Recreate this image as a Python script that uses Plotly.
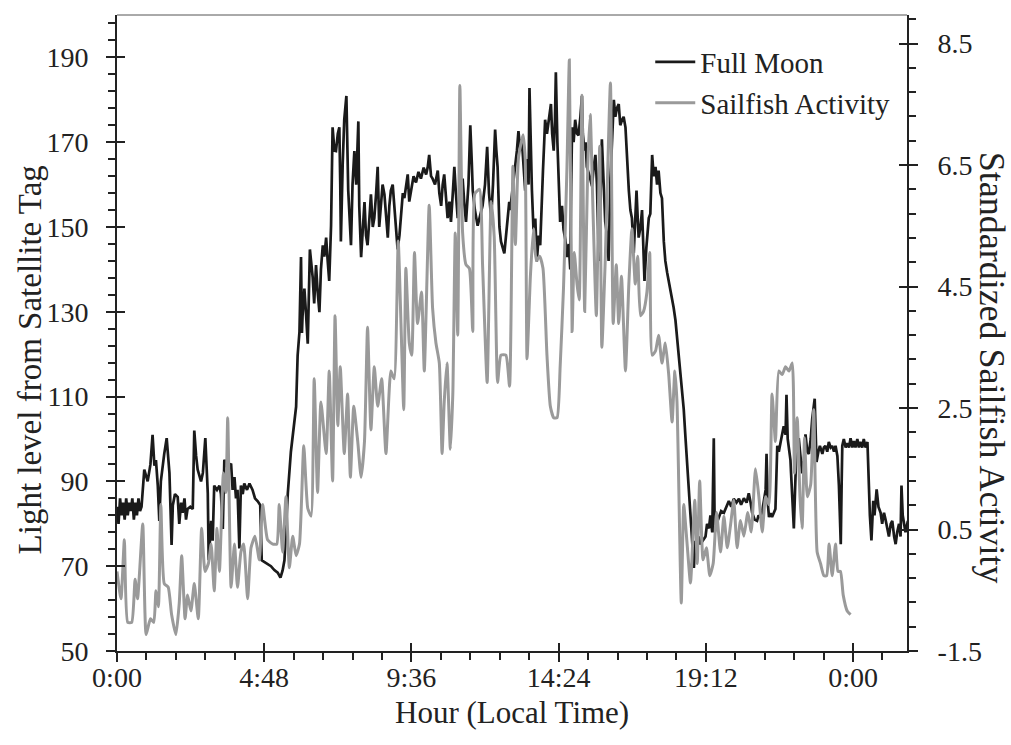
import plotly.graph_objects as go

# ---------------- data ----------------
moon_hours = [
    0.00, 0.05, 0.10, 0.15, 0.20, 0.25, 0.30, 0.35, 0.40, 0.45, 0.50, 0.55, 0.60, 0.65, 0.70, 0.75, 0.80, 0.85,
    0.89, 1.00, 1.09, 1.16, 1.22, 1.27, 1.33, 1.38, 1.43, 1.54, 1.62, 1.71, 1.78, 1.82, 1.89, 1.98, 2.03, 2.09,
    2.14, 2.20, 2.25, 2.30, 2.39, 2.47, 2.52, 2.58, 2.63, 2.74, 2.80, 2.88, 2.92, 2.96, 2.99, 3.07, 3.12, 3.17,
    3.26, 3.34, 3.39, 3.45, 3.50, 3.61, 3.72, 3.77, 3.83, 3.88, 3.93, 3.99, 4.04, 4.10, 4.15, 4.24, 4.32, 4.42,
    4.50, 4.59, 4.67, 4.72, 4.80, 4.91, 5.02, 5.13, 5.24, 5.33, 5.40, 5.46, 5.57, 5.67, 5.73, 5.84, 5.89, 5.95,
    6.00, 6.03, 6.05, 6.11, 6.16, 6.22, 6.29, 6.38, 6.43, 6.49, 6.54, 6.60, 6.65, 6.71, 6.76, 6.82, 6.87, 6.92,
    6.98, 7.03, 7.09, 7.14, 7.20, 7.25, 7.28, 7.30, 7.36, 7.41, 7.48, 7.52, 7.54, 7.63, 7.68, 7.74, 7.80, 7.87,
    7.90, 7.96, 8.01, 8.07, 8.12, 8.17, 8.23, 8.28, 8.34, 8.39, 8.45, 8.50, 8.55, 8.61, 8.66, 8.72, 8.77, 8.83,
    8.88, 8.93, 8.99, 9.04, 9.10, 9.15, 9.21, 9.26, 9.32, 9.37, 9.42, 9.48, 9.53, 9.59, 9.67, 9.75, 9.83, 9.91,
    10.00, 10.08, 10.13, 10.18, 10.24, 10.29, 10.37, 10.46, 10.51, 10.57, 10.62, 10.67, 10.73, 10.78, 10.84,
    10.89, 10.95, 11.00, 11.05, 11.11, 11.20, 11.27, 11.33, 11.38, 11.46, 11.52, 11.57, 11.60, 11.67, 11.76,
    11.85, 11.92, 12.00, 12.07, 12.13, 12.20, 12.26, 12.33, 12.37, 12.41, 12.47, 12.52, 12.63, 12.72, 12.79,
    12.82, 12.99, 13.04, 13.09, 13.15, 13.20, 13.26, 13.31, 13.37, 13.42, 13.45, 13.50, 13.53, 13.58, 13.64,
    13.69, 13.75, 13.80, 13.86, 13.89, 13.93, 13.96, 14.02, 14.07, 14.11, 14.15, 14.19, 14.24, 14.28, 14.31,
    14.36, 14.40, 14.45, 14.51, 14.56, 14.62, 14.67, 14.73, 14.78, 14.81, 14.84, 14.89, 14.94, 15.00, 15.05,
    15.11, 15.16, 15.19, 15.24, 15.28, 15.32, 15.41, 15.49, 15.54, 15.60, 15.65, 15.71, 15.76, 15.81, 15.87,
    15.92, 15.98, 16.03, 16.09, 16.14, 16.20, 16.25, 16.30, 16.36, 16.41, 16.47, 16.52, 16.58, 16.63, 16.69,
    16.74, 16.79, 16.85, 16.89, 16.94, 16.98, 17.01, 17.07, 17.12, 17.15, 17.20, 17.26, 17.34, 17.39, 17.45,
    17.50, 17.56, 17.61, 17.66, 17.72, 17.77, 17.83, 17.88, 17.94, 18.02, 18.10, 18.15, 18.21, 18.26, 18.32,
    18.37, 18.43, 18.48, 18.53, 18.59, 18.64, 18.70, 18.75, 18.81, 18.86, 18.92, 18.97, 19.02, 19.10, 19.19,
    19.24, 19.30, 19.35, 19.41, 19.46, 19.49, 19.55, 19.62, 19.70, 19.79, 19.88, 19.95, 20.03, 20.11, 20.20,
    20.28, 20.35, 20.44, 20.53, 20.60, 20.66, 20.71, 20.79, 20.87, 20.92, 20.98, 21.04, 21.09, 21.15, 21.18,
    21.22, 21.26, 21.31, 21.36, 21.42, 21.47, 21.53, 21.58, 21.64, 21.69, 21.74, 21.80, 21.83, 21.87, 21.91,
    21.96, 21.98, 22.02, 22.07, 22.11, 22.15, 22.23, 22.29, 22.34, 22.40, 22.45, 22.51, 22.56, 22.62, 22.67,
    22.75, 22.81, 22.87, 22.92, 23.00, 23.05, 23.10, 23.16, 23.21, 23.27, 23.32, 23.38, 23.43, 23.49, 23.54,
    23.57, 23.60, 23.63, 23.65, 23.70, 23.76, 23.81, 23.87, 23.92, 23.98, 24.03, 24.08, 24.14, 24.19, 24.24,
    24.30, 24.35, 24.41, 24.47, 24.50, 24.52, 24.55, 24.60, 24.63, 24.66, 24.70, 24.77, 24.83, 24.90, 24.95,
    25.01, 25.06, 25.12, 25.17, 25.23, 25.28, 25.34, 25.39, 25.44, 25.50, 25.55, 25.58, 25.62, 25.66, 25.71,
    25.79,
]
moon_light = [
    84, 80, 86, 82, 85, 81, 86, 82, 85, 83, 86, 81, 85, 82, 86, 83, 84, 88,
    92.8, 90, 94, 101, 93.7, 95, 89, 80.7, 90, 96.5, 100.2, 92, 75, 84.4, 87, 86.3, 80, 85,
    82.6, 86, 81, 83.5, 84, 83.5, 102, 96, 92.8, 90, 92, 100.2, 95, 87.2, 71.4, 80.7, 76, 89,
    88, 89, 87, 78.8, 95.1, 93, 94.2, 88, 91, 86, 88, 74.2, 89, 87, 89.5, 88, 89.5, 88,
    86, 85.3, 84.4, 71.4, 71, 70.5, 70, 69.1, 68.5, 67.3, 69, 71.4, 87.2, 97, 101.1, 107.6, 119.7, 125.3,
    142.9, 125, 129, 135.5, 130, 122.5, 144.7, 138.2, 132, 141, 135, 129.9, 140, 145.7, 143, 147.5, 142, 137.3,
    150.3, 173.5, 168, 167.9, 172, 173.5, 160, 146.6, 165, 175.3, 180.9, 166, 158.6, 145.7, 160, 167.9, 160, 174.9,
    154.9, 142.9, 150, 155.9, 148, 145.7, 152, 157.7, 150, 152.1, 158, 164.2, 150, 155, 160, 157.7, 152, 147.5,
    155, 158.6, 160, 155, 150, 144.7, 148, 152.1, 158, 156.8, 160, 162.4, 156, 158.6, 162, 160.5, 163, 161.4,
    164, 162.4, 164, 167, 162, 161.4, 160, 163.3, 158, 155, 160, 162.4, 156, 152.1, 156,
    151.2, 158, 164.2, 158, 152.1, 158, 161.4, 155, 151.2, 160, 174, 165, 158.6, 154, 150.3,
    153, 155, 160, 168.9, 158, 152.1, 160, 173, 168, 164.2, 150, 146.6, 143.8, 150, 155.9,
    154, 164.2, 168, 172.6, 168, 170.7, 163, 158.6, 166, 160, 182.8, 165, 158.6, 149.4, 152,
    141.9, 148, 145.7, 155, 163.3, 170, 175.3, 172, 174.4, 177, 179, 172, 168, 175, 186.5,
    170, 161.4, 151.2, 155, 149.4, 147, 142.9, 146, 140, 160, 173.5, 170, 175.3, 172, 171.6,
    176, 180.9, 172, 168, 170, 164.2, 162, 159.6, 164, 167, 160, 142, 155, 170.7, 160,
    151.2, 148, 142, 161.4, 172, 180, 176, 178, 179, 174, 175.3, 176, 173.5, 165, 158.6,
    154, 152.1, 143.8, 150, 158.6, 152, 147.5, 150, 154, 148, 137.3, 145, 152.1, 153.1, 167,
    162, 164.2, 160, 163.3, 158, 156.8, 146.6, 142, 139.2, 136, 133.6, 131, 128, 124, 119.7,
    116, 112.3, 107, 101.1, 94, 87.2, 82, 77, 69.6, 76, 74.2, 77, 75.2, 76, 77,
    80, 78.9, 82, 78, 100.2, 78, 80, 81.6, 83, 82.6, 84, 85.4, 84, 85.9, 85,
    85.9, 84.5, 86, 85, 87.2, 85, 82.6, 81, 80.7, 82, 81.5, 83, 85.4, 88, 96.5,
    85, 81.6, 82.5, 81.6, 82.5, 83.5, 98.4, 97, 99.3, 101, 103, 101, 110.4, 100, 97.4,
    95, 91.9, 85, 78.9, 88, 96.5, 100.2, 96, 91.9, 95, 101.1, 97, 96.5, 100, 104.8,
    109.5, 94.6, 97, 98.4, 96.5, 98, 98.4, 97, 99.3, 98, 98.4, 97, 98.4, 96, 89,
    80, 75.2, 90, 98.4, 100, 98, 99, 98, 100.2, 98, 99.5, 98, 100, 98, 99.3,
    98, 100, 98, 99.3, 92, 86.3, 82, 76.1, 83, 85.4, 82, 88.1, 84, 82.6, 80,
    82.6, 81, 79, 77, 80, 80.7, 77, 75.2, 78, 80, 77, 89, 82, 79.8, 78,
    80.7,
]

sail_hours = [
    0.00, 0.13, 0.24, 0.35, 0.48, 0.59, 0.67, 0.84, 0.95, 1.09, 1.20, 1.27, 1.35, 1.43, 1.54, 1.67, 1.78, 1.92,
    2.03, 2.11, 2.22, 2.30, 2.41, 2.52, 2.65, 2.76, 2.87, 2.98, 3.07, 3.17, 3.26, 3.34, 3.47, 3.55, 3.61, 3.72,
    3.83, 3.93, 4.04, 4.13, 4.26, 4.37, 4.50, 4.64, 4.75, 4.91, 5.08, 5.21, 5.29, 5.40, 5.51, 5.62, 5.73, 5.84,
    5.95, 6.09, 6.22, 6.33, 6.43, 6.54, 6.65, 6.82, 6.92, 7.03, 7.11, 7.20, 7.28, 7.41, 7.52, 7.61, 7.72, 7.85,
    7.96, 8.07, 8.17, 8.28, 8.39, 8.50, 8.63, 8.77, 8.93, 9.04, 9.17, 9.26, 9.35, 9.42, 9.53, 9.61, 9.70, 9.80,
    9.93, 10.02, 10.18, 10.29, 10.40, 10.51, 10.60, 10.67, 10.76, 10.87, 10.95, 11.03, 11.11, 11.18, 11.27,
    11.38, 11.49, 11.60, 11.67, 11.82, 11.92, 12.07, 12.20, 12.30, 12.41, 12.52, 12.68, 12.80, 12.91, 12.99,
    13.09, 13.24, 13.31, 13.37, 13.48, 13.58, 13.67, 13.78, 13.89, 14.02, 14.13, 14.24, 14.35, 14.45, 14.56,
    14.67, 14.75, 14.84, 14.91, 15.00, 15.07, 15.16, 15.25, 15.35, 15.43, 15.52, 15.63, 15.74, 15.81, 15.92,
    16.09, 16.18, 16.28, 16.36, 16.45, 16.58, 16.69, 16.79, 16.90, 16.98, 17.07, 17.17, 17.28, 17.37, 17.45,
    17.56, 17.66, 17.77, 17.88, 17.99, 18.10, 18.19, 18.26, 18.40, 18.48, 18.59, 18.70, 18.84, 18.92, 19.00,
    19.11, 19.22, 19.33, 19.44, 19.55, 19.68, 19.79, 19.90, 20.01, 20.11, 20.22, 20.33, 20.44, 20.57, 20.68,
    20.82, 20.93, 21.04, 21.15, 21.26, 21.36, 21.47, 21.58, 21.69, 21.80, 21.91, 22.02, 22.09, 22.18, 22.27,
    22.34, 22.42, 22.51, 22.62, 22.72, 22.83, 22.94, 23.05, 23.14, 23.22, 23.32, 23.43, 23.51, 23.59, 23.68,
    23.81, 23.92,
]
sail_activity = [
    -0.19, -0.64, 0.33, -1.03, -1.03, -0.32, -0.64, 0.59, -1.23, -0.97, -1.03, -0.51, -0.77, 0.91, -0.39, -0.45, -0.90, -1.23,
    -0.71, 0.07, -0.97, -0.58, -0.84, -0.39, -0.97, 0.52, -0.19, -0.06, 0.26, -0.51, 0.52, -0.19, 1.43, 1.11, 2.34, -0.45,
    0.26, -0.45, 0.13, 0.26, -0.64, 0.20, 0.39, 0.00, 0.91, 0.33, 0.26, 0.26, 0.91, 0.13, 1.04, -0.13, 0.39, 0.07,
    0.26, 1.88, 0.85, 0.72, 2.98, 1.11, 2.60, 1.75, 3.11, 1.30, 4.02, 2.21, 3.18, 1.75, 2.73, 1.36, 2.53, 1.95,
    1.36, 1.95, 3.83, 2.14, 3.18, 2.53, 2.98, 1.75, 3.11, 2.98, 5.25, 3.89, 2.47, 4.80, 3.57, 3.37, 5.06, 3.89,
    4.41, 3.11, 5.84, 4.15, 3.57, 3.24, 1.75, 2.60, 3.24, 1.82, 2.73, 5.38, 3.70, 7.81, 5.38,
    4.86, 4.80, 3.76, 6.03, 6.10, 4.86, 2.92, 5.90, 5.32, 2.92, 3.37, 3.37, 2.86, 6.48, 5.19,
    6.61, 7.00, 6.61, 3.31, 4.67, 5.45, 4.93, 5.00, 4.80, 3.37, 2.53, 2.34, 2.34, 3.18, 4.48,
    6.42, 8.23, 3.76, 5.06, 4.54, 4.28, 7.65, 4.09, 6.48, 7.33, 5.77, 4.02, 6.81, 3.50, 4.93,
    7.85, 3.89, 4.86, 3.89, 4.67, 3.11, 4.54, 5.45, 4.54, 5.00, 4.02, 4.09, 4.41, 5.06, 3.37,
    3.44, 3.70, 3.24, 3.57, 3.05, 2.27, 3.11, 2.60, -0.71, 0.91, 0.26, -0.38, 0.98, -0.06, 1.30,
    0.00, 0.20, -0.26, -0.06, 0.78, 0.13, 0.72, 0.20, 0.59, 0.98, 0.20, 0.65, 0.39, 0.78, 0.46,
    1.50, 1.04, 0.46, 1.04, 0.91, 2.73, 1.95, 3.11, 3.05, 3.18, 3.11, 3.24, 1.43, 2.34, 1.04,
    0.52, 2.01, 1.04, 1.24, 2.47, 0.13, -0.06, -0.26, -0.26, 0.26, -0.26, 0.26, -0.19, -0.19, -0.58,
    -0.84, -0.90,
]

x_tickvals = [0, 4.8, 9.6, 14.4, 19.2, 24]
x_ticktext = ["0:00", "4:48", "9:36", "14:24", "19:12", "0:00"]
right_tickvals = [-1.5, 0.5, 2.5, 4.5, 6.5, 8.5]
right_ticktext = ["-1.5", "0.5", "2.5", "4.5", "6.5", "8.5"]
x_range = [0, 25.76]
left_range = [50, 200]
right_range = [-1.5, 8.97]

FONT = "Liberation Serif"
INK = "#222222"

fig = go.Figure()
fig.add_trace(go.Scatter(x=moon_hours, y=moon_light, mode="lines", name="Full Moon",
                         line=dict(color="#1a1a1a", width=2.7), xaxis="x", yaxis="y"))
fig.add_trace(go.Scatter(x=sail_hours, y=sail_activity, mode="lines", name="Sailfish Activity",
                         line=dict(color="#9a9a9a", width=3, shape="spline", smoothing=0.5),
                         xaxis="x", yaxis="y2"))
# empty helper traces so the inner-tick overlay axes are drawn
fig.add_trace(go.Scatter(x=[], y=[], xaxis="x2", yaxis="y", showlegend=False, hoverinfo="skip"))
fig.add_trace(go.Scatter(x=[], y=[], xaxis="x", yaxis="y3", showlegend=False, hoverinfo="skip"))
fig.add_trace(go.Scatter(x=[], y=[], xaxis="x", yaxis="y4", showlegend=False, hoverinfo="skip"))

tickfont = dict(family=FONT, size=28, color=INK)
common = dict(showgrid=False, zeroline=False)

fig.update_layout(
    width=1011, height=745,
    margin=dict(l=117, r=104, t=15, b=94),
    paper_bgcolor="white", plot_bgcolor="white",
    font=dict(family=FONT, color=INK),
    xaxis=dict(range=x_range, tickmode="array", tickvals=x_tickvals, ticktext=x_ticktext,
               ticks="outside", ticklen=9, tickwidth=2, tickcolor=INK,
               minor=dict(tick0=0, dtick=0.96, ticks="outside", ticklen=7, tickwidth=1.6, tickcolor=INK),
               showline=True, linewidth=2, linecolor=INK, tickfont=tickfont, ticklabelstandoff=-9, **common),
    xaxis2=dict(overlaying="x", anchor="y", range=x_range, tickmode="array", tickvals=x_tickvals,
                ticks="inside", ticklen=8, tickwidth=2, tickcolor=INK, showticklabels=False,
                showline=False, **common),
    yaxis=dict(range=left_range, tick0=50, dtick=20, ticks="outside", ticklen=9, tickwidth=2, tickcolor=INK,
               minor=dict(tick0=50, dtick=4, ticks="outside", ticklen=7, tickwidth=1.6, tickcolor=INK),
               showline=True, linewidth=2, linecolor=INK, tickfont=tickfont, ticklabelstandoff=12, **common),
    yaxis2=dict(range=right_range, overlaying="y", side="right", anchor="x", tickmode="array",
                tickvals=right_tickvals, ticktext=right_ticktext,
                ticks="outside", ticklen=9, tickwidth=2, tickcolor=INK,
                minor=dict(tick0=-1.5, dtick=0.4, ticks="outside", ticklen=7, tickwidth=1.6, tickcolor=INK),
                showline=True, linewidth=2, linecolor=INK, tickfont=tickfont, ticklabelstandoff=14, **common),
    yaxis3=dict(range=left_range, overlaying="y", side="left", anchor="x", tick0=50, dtick=20,
                ticks="inside", ticklen=8, tickwidth=2, tickcolor=INK, showticklabels=False, showline=False, **common),
    yaxis4=dict(range=right_range, overlaying="y", side="right", anchor="x", tickmode="array",
                tickvals=right_tickvals,
                ticks="inside", ticklen=8, tickwidth=2, tickcolor=INK, showticklabels=False, showline=False, **common),
    legend=dict(x=0.675, y=0.966, xanchor="left", yanchor="top", bgcolor="rgba(0,0,0,0)",
                itemwidth=40, font=dict(family=FONT, size=29, color=INK), tracegroupgap=0),
    showlegend=True,
    shapes=[dict(type="line", xref="x domain", yref="y domain", x0=0, x1=1, y0=1, y1=1,
                 line=dict(color="#555555", width=1))],
    annotations=[
        dict(text="Hour (Local Time)", xref="paper", yref="paper", x=0.5, y=-0.096, xanchor="center",
             yanchor="middle", showarrow=False, font=dict(family=FONT, size=31, color=INK)),
        dict(text="Light level from Satellite Tag", xref="paper", yref="paper", x=-0.110, y=0.457,
             xanchor="center", yanchor="middle", textangle=-90, showarrow=False,
             font=dict(family=FONT, size=33, color=INK)),
        dict(text="Standardized Sailfish Activity", xref="paper", yref="paper", x=1.108, y=0.445,
             xanchor="center", yanchor="middle", textangle=90, showarrow=False,
             font=dict(family=FONT, size=36, color=INK)),
    ],
)

fig.write_html("out.html")
